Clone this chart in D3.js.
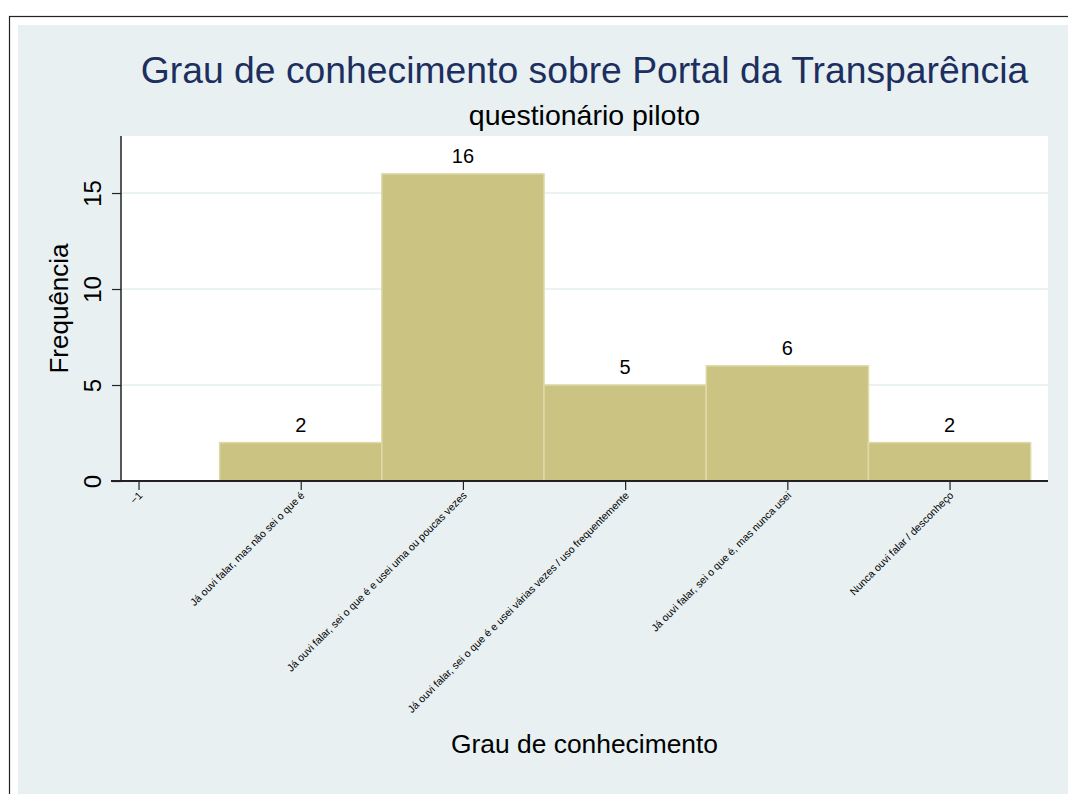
<!DOCTYPE html>
<html>
<head>
<meta charset="utf-8">
<script src="https://cdn.jsdelivr.net/npm/d3@7"></script>
<style>
  body { margin: 0; background: #fff; }
  svg text { font-family: "Liberation Sans", Arial, Helvetica, sans-serif; }
</style>
</head>
<body>
<div id="chart"></div>
<script>
// data
var categories = [
    "Já ouvi falar, mas não sei o que é",
    "Já ouvi falar, sei o que é e usei uma ou poucas vezes",
    "Já ouvi falar, sei o que é e usei várias vezes / uso frequentemente",
    "Já ouvi falar, sei o que é, mas nunca usei",
    "Nunca ouvi falar / desconheço"
];
var counts = [2, 16, 5, 6, 2];
var yTicks = [0, 5, 10, 15];
var xTickValues = [-1, 0, 1, 2, 3, 4];

function drawChart() {
    var width = 1068
    var height = 794

    var svg = d3.select("#chart")
        .append("svg")
        .attr("width", width)
        .attr("height", height);

    // outer graph frame (Stata style)
    svg.append("rect")
        .attr("x", 9.5).attr("y", 16.5)
        .attr("width", width).attr("height", height)
        .attr("fill", "#fff")
        .attr("stroke", "#222")
        .attr("stroke-width", 1.2);
    svg.append("rect")
        .attr("x", 18).attr("y", 25)
        .attr("width", width).attr("height", height)
        .attr("fill", "#E8F0F2");

    // plot region
    var pLeft = 121, pRight = 1048, pTop = 136, pBottom = 481;

    var x = d3.scaleLinear()
        .domain([-1.108, 4.607])
        .range([pLeft, pRight]);
    var y = d3.scaleLinear()
        .domain([0, 17.97])
        .range([pBottom, pTop]);

    svg.append("rect")
        .attr("x", pLeft).attr("y", pTop)
        .attr("width", pRight - pLeft).attr("height", pBottom - pTop)
        .attr("fill", "#fff");

    // grid lines
    svg.selectAll("line.grid")
        .data(yTicks.slice(1))
        .enter()
        .append("line")
        .attr("class", "grid")
        .attr("x1", pLeft).attr("x2", pRight)
        .attr("y1", d => y(d)).attr("y2", d => y(d))
        .attr("stroke", "#EAF2F3")
        .attr("stroke-width", 2);

    // bars
    svg.selectAll("rect.bar")
        .data(counts)
        .enter()
        .append("rect")
        .attr("class", "bar")
        .attr("x", (d, i) => x(i - 0.5))
        .attr("width", (d, i) => x(i + 0.5) - x(i - 0.5))
        .attr("y", d => y(d))
        .attr("height", d => y(0) - y(d))
        .attr("fill", "#CBC382")
        .attr("stroke", "#DEDAA8")
        .attr("stroke-width", 1.5);

    // bar labels
    svg.selectAll("text.val")
        .data(counts)
        .enter()
        .append("text")
        .attr("class", "val")
        .attr("x", (d, i) => x(i))
        .attr("y", d => y(d) - 11)
        .attr("text-anchor", "middle")
        .attr("font-size", "20px")
        .attr("fill", "#000")
        .text(d => d);

    // y axis
    var yAxis = svg.append("g")
        .attr("transform", "translate(" + pLeft + ",0)")
        .call(d3.axisLeft(y).tickValues(yTicks).tickSize(9).tickSizeOuter(0));
    yAxis.select(".domain").attr("d", "M0," + y(0) + "V" + pTop).attr("stroke", "#222").attr("stroke-width", 1.5);
    yAxis.selectAll(".tick line").attr("stroke", "#222").attr("stroke-width", 1.2);
    yAxis.selectAll(".tick text")
        .attr("font-size", "24px")
        .attr("fill", "#000")
        .attr("text-anchor", "middle")
        .attr("transform", "rotate(-90)")
        .attr("x", 0)
        .attr("y", -20)
        .attr("dy", "0");

    // x axis
    var xLabels = ["\u22121"].concat(categories);
    var xAxis = svg.append("g")
        .attr("transform", "translate(0," + pBottom + ")")
        .call(d3.axisBottom(x).tickValues(xTickValues).tickSize(9).tickSizeOuter(0)
            .tickFormat((d, i) => xLabels[i]));
    xAxis.select(".domain").attr("d", "M" + (pLeft - 10) + ",0H" + pRight).attr("stroke", "#222").attr("stroke-width", 2);
    xAxis.selectAll(".tick line").attr("stroke", "#222").attr("stroke-width", 1.2);
    xAxis.selectAll(".tick text")
        .attr("font-size", "10.5px")
        .attr("fill", "#000")
        .attr("text-anchor", "end")
        .attr("dy", "0")
        .attr("x", 0)
        .attr("y", 0)
        .attr("transform", "translate(4,15) rotate(-45)");

    // titles
    svg.append("text")
        .attr("x", (pLeft + pRight) / 2)
        .attr("y", 83)
        .attr("text-anchor", "middle")
        .attr("font-size", "37.3px")
        .attr("fill", "#1C2F5E")
        .text("Grau de conhecimento sobre Portal da Transparência");

    svg.append("text")
        .attr("x", (pLeft + pRight) / 2)
        .attr("y", 125)
        .attr("text-anchor", "middle")
        .attr("font-size", "28.5px")
        .attr("fill", "#000")
        .text("questionário piloto");

    svg.append("text")
        .attr("transform", "translate(68," + ((pTop + pBottom) / 2) + ") rotate(-90)")
        .attr("text-anchor", "middle")
        .attr("font-size", "26px")
        .attr("fill", "#000")
        .text("Frequência");

    svg.append("text")
        .attr("x", (pLeft + pRight) / 2)
        .attr("y", 753)
        .attr("text-anchor", "middle")
        .attr("font-size", "26.4px")
        .attr("fill", "#000")
        .text("Grau de conhecimento");
}

drawChart();
</script>
</body>
</html>
